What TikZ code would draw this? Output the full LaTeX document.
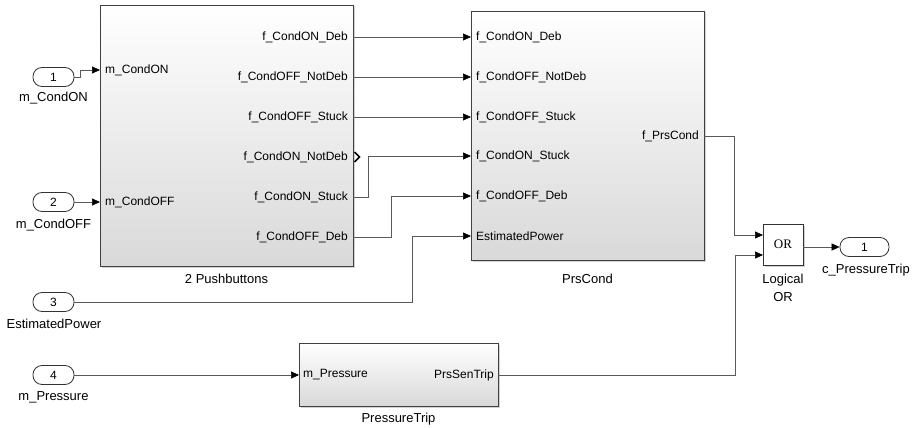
\documentclass[tikz,border=0pt]{standalone}
\usepackage{fontspec}
\setmainfont{Liberation Sans}
\newfontfamily\serifor{Liberation Serif}
\usetikzlibrary{arrows.meta,shadows}
\begin{document}
\begin{tikzpicture}[x=1pt,y=-1pt,
  blk/.style={draw=black!75, line width=0.8pt, top color=white, bottom color=black!15,
    drop shadow={shadow xshift=1.5pt,shadow yshift=-1.5pt,fill=black!35}, inner sep=0pt},
  port/.style={draw=black!80, line width=0.8pt, fill=white, rounded corners=9pt,
    minimum width=41pt, minimum height=19pt, inner sep=0pt, font=\fontsize{12}{12}\selectfont},
  wire/.style={draw=black!65, line width=0.7pt},
  arr/.style={wire, -{Triangle[length=8pt,width=7pt,color=black]}},
  plab/.style={font=\fontsize{12}{14}\selectfont, inner sep=0pt},
  blab/.style={font=\fontsize{13}{15}\selectfont, inner sep=0pt, align=center}
]
\useasboundingbox (0,0) rectangle (921,428);

% blocks
\node[blk, minimum width=253pt, minimum height=261pt] (pb) at (226.5,135.5) {};
\node[blk, minimum width=233pt, minimum height=249pt] (prs) at (587.5,135.5) {};
\node[blk, minimum width=199pt, minimum height=63pt] (pt) at (398.5,374.5) {};
\node[draw=black!80, line width=0.8pt, fill=white, inner sep=0pt,
  drop shadow={shadow xshift=1.5pt,shadow yshift=-1.5pt,fill=black!35},
  minimum width=40pt, minimum height=41pt, font=\serifor\fontsize{13}{13}\selectfont] (or) at (783,244.5) {OR};

% ports
\node[port] (in1) at (53.5,77) {1};
\node[port] (in2) at (53.5,202) {2};
\node[port] (in3) at (53.5,302) {3};
\node[port] (in4) at (53.5,375) {4};
\node[port, minimum width=49pt] (out1) at (864.5,247) {1};

% port names
\node[blab] (lin1) at (53.5,98) {m\_CondON};
\node[blab] (lin2) at (53.5,225) {m\_CondOFF};
\node[blab] (lin3) at (54,324) {EstimatedPower};
\node[blab] (lin4) at (53.5,397) {m\_Pressure};
\node[blab] (lout1) at (866,270) {c\_PressureTrip};

% block names
\node[blab] (lpb) at (226.5,279) {2 Pushbuttons};
\node[blab] (lprs) at (587.5,279) {PrsCond};
\node[blab] (lpt) at (398.5,419) {PressureTrip};
\node[blab, font=\fontsize{13}{18}\selectfont] (lor) at (783,288) {Logical\\OR};

% pushbuttons port coordinates
\coordinate (pbi1) at (100,70);
\coordinate (pbi2) at (100,202);
\coordinate (pbo1) at (353,37);
\coordinate (pbo2) at (353,77);
\coordinate (pbo3) at (353,117);
\coordinate (pbo4) at (353,157);
\coordinate (pbo5) at (353,197);
\coordinate (pbo6) at (353,237);
% prscond port coordinates
\coordinate (pri1) at (471,37);
\coordinate (pri2) at (471,77);
\coordinate (pri3) at (471,117);
\coordinate (pri4) at (471,156);
\coordinate (pri5) at (471,196);
\coordinate (pri6) at (471,236);
\coordinate (pro1) at (704,136);
% pressure trip
\coordinate (pti1) at (299,375);
\coordinate (pto1) at (498,375);
% or
\coordinate (ori1) at (763,235);
\coordinate (ori2) at (763,255);
\coordinate (oro1) at (803,247);

% port labels
\node[plab, anchor=west] at (105,70) {m\_CondON};
\node[plab, anchor=west] at (105,202) {m\_CondOFF};
\node[plab, anchor=east] at (348,37) {f\_CondON\_Deb};
\node[plab, anchor=east] at (348,77) {f\_CondOFF\_NotDeb};
\node[plab, anchor=east] at (348,117) {f\_CondOFF\_Stuck};
\node[plab, anchor=east] at (348,157) {f\_CondON\_NotDeb};
\node[plab, anchor=east] at (348,197) {f\_CondON\_Stuck};
\node[plab, anchor=east] at (348,237) {f\_CondOFF\_Deb};
\node[plab, anchor=west] at (476,37) {f\_CondON\_Deb};
\node[plab, anchor=west] at (476,77) {f\_CondOFF\_NotDeb};
\node[plab, anchor=west] at (476,117) {f\_CondOFF\_Stuck};
\node[plab, anchor=west] at (476,156) {f\_CondON\_Stuck};
\node[plab, anchor=west] at (476,196) {f\_CondOFF\_Deb};
\node[plab, anchor=west] at (476,236) {EstimatedPower};
\node[plab, anchor=east] at (699,136) {f\_PrsCond};
\node[plab, anchor=west] at (303,375) {m\_Pressure};
\node[plab, anchor=east] at (494,375) {PrsSenTrip};

% unconnected output chevron
\draw[black, line width=1.6pt, line join=miter] (354.5,152) -- (359.5,157) -- (354.5,162);

% connectors
\draw[arr] (in1.east) -- (80,77) -- (80,70) -- (pbi1);
\draw[arr] (in2.east) -- (pbi2);
\draw[arr] (pbo1) -- (pri1);
\draw[arr] (pbo2) -- (pri2);
\draw[arr] (pbo3) -- (pri3);
\draw[arr] (pbo5) -- (368,197) -- (368,156) -- (pri4);
\draw[arr] (pbo6) -- (391,237) -- (391,196) -- (pri5);
\draw[arr] (in3.east) -- (412,302) -- (412,236) -- (pri6);
\draw[arr] (in4.east) -- (pti1);
\draw[arr] (pro1) -- (734,136) -- (734,235) -- (ori1);
\draw[arr] (pto1) -- (735,375) -- (735,255) -- (ori2);
\draw[arr] (oro1) -- (out1.west);
\end{tikzpicture}
\end{document}
